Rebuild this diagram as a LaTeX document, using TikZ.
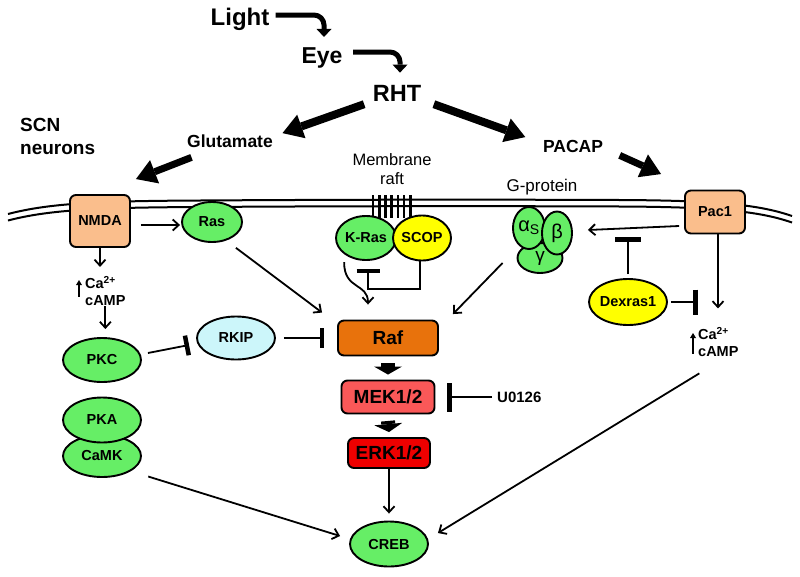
\documentclass[tikz,border=0pt]{standalone}
\usepackage{fontspec}
\setmainfont{Liberation Sans}
\usetikzlibrary{arrows.meta,shapes.geometric}
\definecolor{cgreen}{RGB}{102,238,102}
\definecolor{cpeach}{RGB}{250,190,140}
\definecolor{craf}{RGB}{232,114,12}
\definecolor{cmek}{RGB}{250,88,88}
\definecolor{cerk}{RGB}{238,0,0}
\definecolor{crkip}{RGB}{204,246,250}
\definecolor{cyel}{RGB}{255,255,0}
\newcommand\zb[1]{\makebox[0pt]{#1}}
\newcommand\fsb[1]{\fontsize{#1}{#1}\selectfont\bfseries}
\newcommand\fsr[1]{\fontsize{#1}{#1}\selectfont}
\begin{document}
\begin{tikzpicture}[x=1pt,y=-1pt,
 ell/.style={ellipse,draw,line width=1.9pt,inner sep=0pt,font=\fsb{14.5}},
 rbox/.style={rectangle,rounded corners=6pt,draw,line width=1.9pt,inner sep=0pt,font=\fsb{14.5}},
 txt/.style={inner sep=0pt},
 conn/.style={line width=1.8pt,-{Straight Barb[length=6pt,width=11pt]}},
 smallup/.style={line width=1.5pt,-{Triangle[length=5pt,width=6pt,line width=0pt]}},
 inh/.style={line width=1.8pt,-{Bar[width=#1,line width=4.5pt]}},
 inh/.default=22pt,
 fat/.style={line width=8pt,-{Triangle[length=20pt,width=25pt,line width=0pt]}},
 bendarr/.style={line width=5pt,rounded corners=10pt,-{Triangle[length=8pt,width=15pt,line width=0pt]}},
 blockarr/.style={line width=14pt,-{Triangle[length=8pt,width=28pt,line width=0pt]}},
 mem/.style={line width=2pt}
]
\useasboundingbox[fill=white] (0,0) rectangle (800,576);

% membrane
\draw[mem] (8,214) .. controls (50,203) and (100,201) .. (200,200.5) .. controls (350,199.5) and (500,199.5) .. (620,200) .. controls (720,200.5) and (760,205) .. (792,216);
\draw[mem] (8,220.5) .. controls (50,209.5) and (100,207.5) .. (200,207) .. controls (350,206) and (500,206) .. (620,206.5) .. controls (720,207) and (760,211.5) .. (792,222.5);
\foreach \i in {0,...,6} \draw[line width=2.6pt] ({373+6.2*\i},195) -- ({373+6.2*\i},218);

% text labels
\node[txt,anchor=base,font=\fsb{24}] (light) at (240,25) {Light};
\node[txt,anchor=base,font=\fsb{23}] (eye) at (322,63) {Eye};
\node[txt,anchor=base,font=\fsb{23.5}] (rht) at (397,101) {RHT};
\node[txt,anchor=base,font=\fsb{17.5}] (glu) at (230,147) {Glutamate};
\node[txt,anchor=base,font=\fsb{17.5}] (pacap) at (573,152) {PACAP};
\node[txt,anchor=north west,align=left,font={\fontsize{19}{23}\selectfont\bfseries}] (scn) at (20,118) {SCN\\neurons};
\node[txt,align=center,font={\fontsize{16.5}{19.5}\selectfont}] (raft) at (392,169) {Membrane\\raft};
\node[txt,font=\fsr{17}] (gp) at (542,187.5) {G-protein};
\node[txt,anchor=west,font=\fsb{15}] (u0126) at (497,397) {U0126};
\node[txt,anchor=north west,align=left,font={\fontsize{14.5}{16.5}\selectfont\bfseries}] (ca1) at (85,276) {Ca\textsuperscript{2+}\\cAMP};
\node[txt,anchor=north west,align=left,font={\fontsize{14.5}{16.5}\selectfont\bfseries}] (ca2) at (698,327) {Ca\textsuperscript{2+}\\cAMP};

% molecules
\node[rbox,fill=cpeach,minimum width=60pt,minimum height=52pt] (nmda) at (100,221) {NMDA};
\node[rbox,fill=cpeach,minimum width=60pt,minimum height=43pt] (pac1) at (715,212) {Pac1};
\node[ell,fill=cgreen,minimum width=60pt,minimum height=40pt] (ras) at (212,222) {\zb{Ras}};
\node[ell,fill=cgreen,minimum width=60pt,minimum height=44pt] (kras) at (366,238) {\zb{K-Ras}};
\node[ell,fill=cyel,minimum width=58pt,minimum height=45pt] (scop) at (422,238) {\zb{SCOP}};
\node[ell,fill=cgreen,minimum width=45pt,minimum height=30pt,font=\fsr{19}] (gam) at (540,258) {\zb{γ}};
\node[ell,fill=cgreen,minimum width=32pt,minimum height=42pt,font=\fsr{20}] (alp) at (529,228) {\zb{α\textsubscript{S}}};
\node[ell,fill=cgreen,minimum width=30pt,minimum height=43pt,font=\fsr{20}] (bet) at (557,233) {\zb{β}};
\node[rbox,fill=craf,minimum width=100pt,minimum height=35pt,font=\fsb{19}] (raf) at (388,338) {Raf};
\node[rbox,fill=cmek,minimum width=93pt,minimum height=33pt,font=\fsb{19}] (mek) at (388,397) {MEK1/2};
\node[rbox,fill=cerk,minimum width=82pt,minimum height=30pt,font=\fsb{19}] (erk) at (389,453) {ERK1/2};
\node[ell,fill=cgreen,minimum width=78pt,minimum height=45pt] (creb) at (389,544) {\zb{CREB}};
\node[ell,fill=cgreen,minimum width=78pt,minimum height=44pt] (pkc) at (102,360) {\zb{PKC}};
\node[ell,fill=crkip,minimum width=78pt,minimum height=43pt] (rkip) at (236,338) {\zb{RKIP}};
\node[ell,fill=cgreen,minimum width=78pt,minimum height=42pt] (camk) at (102,456) {\zb{CaMK}};
\node[ell,fill=cgreen,minimum width=78pt,minimum height=45pt] (pka) at (102,420) {\zb{PKA}};
\node[ell,fill=cyel,minimum width=78pt,minimum height=46pt] (dex) at (628,302) {\zb{Dexras1}};

% top arrows
\draw[bendarr] ([xshift=6pt,yshift=10pt]light.base east) -| ([xshift=2pt,yshift=10pt]eye.north);
\draw[bendarr] ([xshift=10.5pt,yshift=11pt]eye.base east) -| ([xshift=3pt,yshift=12pt]rht.north);
\draw[fat] ([xshift=-8.5pt,yshift=-3pt]rht.south west) -- ([xshift=9.5pt,yshift=1pt]glu.north east);
\draw[fat] ([xshift=12.5pt,yshift=-3pt]rht.south east) -- ([xshift=-17.5pt,yshift=2.5pt]pacap.north west);
\draw[fat,line width=7pt] ([xshift=4.5pt,yshift=-10pt]glu.south west) -- ([xshift=5pt,yshift=15pt]nmda.north east);
\draw[fat,line width=7pt] ([xshift=16.5pt,yshift=-3pt]pacap.south east) -- ([xshift=-23pt,yshift=15.5pt]pac1.north west);

% left branch
\draw[conn] ([xshift=10pt,yshift=-4pt]nmda.east) -- ([xshift=-1pt,yshift=-3pt]ras.west);
\draw[conn] (nmda.south) -- ([yshift=-19pt]nmda.south);
\draw[smallup] ([xshift=-6pt,yshift=8.5pt]ca1.south west) -- ([xshift=-6pt,yshift=-4pt]ca1.north west);
\draw[conn] ([yshift=-1pt]ca1.south) -- ([yshift=8pt]pkc.north -| ca1.south);
\draw[inh=20pt] ([xshift=6pt,yshift=7pt]pkc.east) -- ([xshift=-7pt,yshift=-7pt]rkip.west);
\draw[inh=20pt] ([xshift=8pt]rkip.east) -- ([xshift=-13pt]raf.west);
\draw[conn] ([xshift=2pt,yshift=-11pt]ras.south east) -- ([xshift=-15pt,yshift=7pt]raf.north west);
\draw[conn] ([xshift=18pt,yshift=-5pt]camk.south east) -- ([xshift=-9pt,yshift=8pt]creb.west);

% raft
\draw[conn] ([yshift=-8pt]kras.south west) .. controls +(0,28) and +(0,-22) .. ([xshift=-20pt,yshift=15pt]raf.north);
\draw[inh=23pt] ([xshift=-2pt]scop.south) |- ([xshift=2pt,yshift=-28pt]kras.south) -- ([xshift=2pt,yshift=-8pt]kras.south);

% right branch
\draw[conn] ([xshift=-14pt,yshift=-5pt]gam.west) -- ([xshift=14pt,yshift=5.5pt]raf.north east);
\draw[conn] ([xshift=-5pt,yshift=-14pt]pac1.west) -- ([xshift=15pt,yshift=3pt]bet.east);
\draw[inh=26pt] ([yshift=4pt]dex.north) -- ([yshift=41pt]dex.north);
\draw[inh=25pt] ([xshift=3pt]dex.east) -- ([xshift=30pt]dex.east);
\draw[conn] ([xshift=3pt]pac1.south) -- ++(0,74);
\draw[smallup] ([xshift=-5pt,yshift=2.5pt]ca2.south west) -- ([xshift=-5pt,yshift=-6pt]ca2.north west);
\draw[conn] ([xshift=-19pt,yshift=-17pt]ca2.south) -- ([xshift=9pt,yshift=11pt]creb.east);

% cascade
\draw[blockarr] ([yshift=-7pt]raf.south) -- ([yshift=5pt]mek.north);
\draw[blockarr] ([yshift=-6.5pt]mek.south) -- ([yshift=5pt]erk.north);
\draw[inh=29pt] ([xshift=-5pt]u0126.west) -- ([xshift=12pt]mek.east);
\draw[conn] (erk.south) -- ([yshift=7pt]creb.north);
\end{tikzpicture}
\end{document}
